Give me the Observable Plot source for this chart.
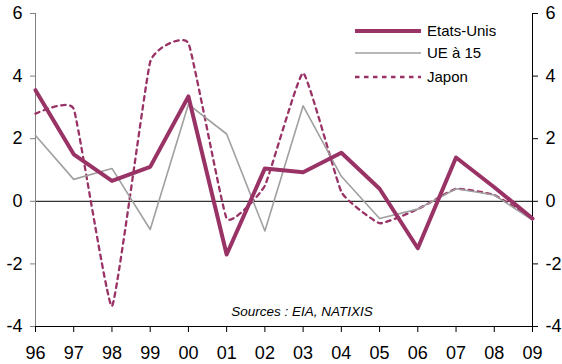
<!DOCTYPE html>
<html>
<head>
<meta charset="utf-8">
<script src="https://cdn.jsdelivr.net/npm/d3@7"></script>
<script src="https://cdn.jsdelivr.net/npm/@observablehq/plot@0.6"></script>
<style>
  html, body { margin: 0; padding: 0; background: #fff; }
  #chart { position: relative; width: 562px; height: 364px; }
</style>
</head>
<body>
<div id="chart"></div>
<script>
// Years and their short tick labels
const years = [1996, 1997, 1998, 1999, 2000, 2001, 2002, 2003, 2004, 2005, 2006, 2007, 2008, 2009];
const tickLabels = ["96", "97", "98", "99", "00", "01", "02", "03", "04", "05", "06", "07", "08", "09"];
const yTicks = [-4, -2, 0, 2, 4, 6];

// Annual change, %
const etatsUnis = [3.55, 1.5, 0.65, 1.1, 3.35, -1.7, 1.05, 0.93, 1.55, 0.4, -1.5, 1.4, 0.45, -0.55];
const ue15 = [2.1, 0.7, 1.05, -0.9, 3.1, 2.15, -0.95, 3.05, 0.8, -0.55, -0.25, 0.4, 0.2, -0.6];
const japon = [2.8, 2.95, -3.35, 4.45, 5.05, -0.55, 0.5, 4.1, 0.3, -0.7, -0.25, 0.4, 0.2, -0.55];

const seriesNames = ["Etats-Unis", "UE à 15", "Japon"];
const source = "Sources : EIA, NATIXIS";

const plum = "#993366";
const grey = "#a0a0a0";
const font = "'Liberation Sans', Arial, sans-serif";

const chart = Plot.plot({
  width: 562,
  height: 364,
  marginLeft: 35,
  marginRight: 30,
  marginTop: 13,
  marginBottom: 38,
  style: { fontFamily: font, fontSize: "18px", color: "#000", background: "#fff", overflow: "visible" },
  x: { domain: [1996, 2009] },
  y: { domain: [-4, 6] },
  marks: [
    Plot.ruleY([0], { stroke: "#000", strokeWidth: 1 }),
    Plot.frame({ anchor: "left", stroke: "#808080" }),
    Plot.frame({ anchor: "right", stroke: "#000" }),
    Plot.frame({ anchor: "bottom", stroke: "#000" }),
    Plot.axisY({ anchor: "left", ticks: yTicks, tickSize: 5, tickPadding: 8, stroke: "#808080", fill: "#000", fontSize: 18, tickFormat: d => String(d) }),
    Plot.axisY({ anchor: "right", ticks: yTicks, tickSize: 5, tickPadding: 8, stroke: "#000", fill: "#000", fontSize: 18, tickFormat: d => String(d) }),
    Plot.axisX({ anchor: "bottom", ticks: years, tickSize: 6, tickPadding: 14, stroke: "#000", fill: "#000", fontSize: 18, tickFormat: d => tickLabels[years.indexOf(d)] }),
    // Japan: gently smoothed dotted line
    Plot.line(years, { x: years, y: japon, stroke: plum, strokeWidth: 2.3, strokeDasharray: "4.5,4.5", curve: "cardinal", tension: 0.65 }),
    Plot.line(years, { x: years, y: ue15, stroke: grey, strokeWidth: 1.6 }),
    Plot.line(years, { x: years, y: etatsUnis, stroke: plum, strokeWidth: 4 }),
    Plot.text([source], { frameAnchor: "bottom", dx: 18, dy: -11, lineAnchor: "bottom", textAnchor: "middle", fontStyle: "italic", fontSize: 13.5, fill: "#000" })
  ]
});

document.getElementById("chart").appendChild(chart);

// Legend drawn inside the plot area, top right
const legendStyles = [
  { stroke: plum, width: 4, dash: null },
  { stroke: grey, width: 1.6, dash: null },
  { stroke: plum, width: 2.3, dash: "4.5,4.5" }
];
const legendRows = [31, 53, 77];
const svg = d3.select(chart);
const legend = svg.append("g")
  .attr("font-family", font)
  .attr("font-size", 15)
  .attr("text-anchor", "start");
seriesNames.forEach((name, i) => {
  const s = legendStyles[i];
  legend.append("line")
    .attr("x1", 355).attr("x2", 421)
    .attr("y1", legendRows[i]).attr("y2", legendRows[i])
    .attr("stroke", s.stroke).attr("stroke-width", s.width)
    .attr("stroke-dasharray", s.dash);
  legend.append("text")
    .attr("x", 427).attr("y", legendRows[i])
    .attr("dy", "0.35em")
    .attr("fill", "#000")
    .text(name);
});
</script>
</body>
</html>
